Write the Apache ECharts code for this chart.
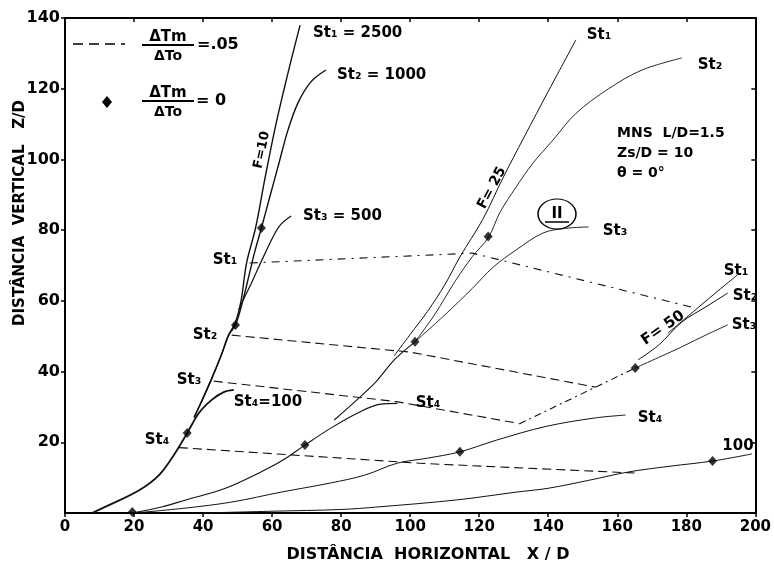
<!DOCTYPE html>
<html><head><meta charset="utf-8">
<script src="https://cdn.jsdelivr.net/npm/echarts@6/dist/echarts.min.js"></script>
<style>html,body{margin:0;padding:0;background:#fff}#c{width:774px;height:567px}</style>
</head><body><div id="c"></div>
<script>
// ---- data (X/D, Z/D) ----
const xTickValues = [0,20,40,60,80,100,120,140,160,180,200];
const yTickValues = [0,20,40,60,80,100,120,140];

// F = 10 family
const f10St1 = [[37.4,27],[40,32.5],[42.5,38],[45.4,45],[47.4,50.3],[49.4,54],[51,60],[52.6,70.7],[55.2,80.6],[58,95],[60.9,109],[63.5,120],[65.5,128],[68.1,138]];
const f10St2 = [[37.4,27],[40,32.5],[42.5,38],[45.4,45],[47.4,50.3],[49.4,53.2],[51.5,60],[53.5,68],[55,74],[56.9,80.6],[59.5,90],[62,99],[64.5,108],[67.5,116],[71.3,122],[75.6,125.3]];
const f10St3 = [[50.3,57.4],[52,61],[54,65],[58,73.5],[62,81],[65.5,84]];
const f10St4 = [[7.8,0],[12.9,2.3],[21.6,6.5],[27.3,10.8],[31.6,16.5],[35.4,22.6],[38.8,28.3],[42.5,32],[46,34.2],[48.9,34.8]];

// F = 25 family
const f25Trunk = [[78,26.3],[84,31.5],[90,37],[95.4,43.3],[101.4,48.4]];
const f25St1 = [[95.4,44.5],[100,50.5],[105,57],[110,64.5],[114.4,72.4],[121,83],[127,95],[133,106.3],[140.2,119.6],[148,133.8]];
const f25St2 = [[101.4,48.4],[107,56],[113,65.5],[118,72.5],[122.7,78],[126,85],[130.7,92.2],[135.6,99],[141.4,105.5],[148,113],[157.5,120],[167.2,125.3],[178.7,128.7]];
const f25St3 = [[101.4,48.4],[110,56],[118,63.5],[124,69.5],[130.7,74.4],[138.5,79.2],[145,80.5],[151.7,80.9]];
const f25St4 = [[19.5,0],[28,1.7],[35,3.7],[46.5,7],[58,12.2],[64,15.5],[69.5,19.2],[77,24],[84.8,28.3],[91.4,30.8],[96.3,31]];

// F = 50 family
const f50Trunk = [[131.6,25.2],[153.7,35.6],[165.2,41]];
const f50St1 = [[174.7,50.9],[183.3,58],[190,63.5],[194.8,67.3]];
const f50St2 = [[166,43.3],[172,47.5],[178.7,54],[186,58.5],[192,62.2]];
const f50St3 = [[165.2,41],[172,44],[178.7,47],[186,50.5],[192,53.2]];
const f50St4 = [[20,0],[35,1.4],[48.3,3.1],[62.6,5.9],[77,8.5],[86.8,10.7],[96.3,14.1],[105,15.5],[114.4,17.3],[125,20.6],[139.4,24.5],[153.7,26.9],[162.4,27.7]];

// F = 100
const f100 = [[40,0],[60,0.5],[80,1],[90.5,1.7],[113.5,3.7],[130.7,5.9],[140,7],[152,9.3],[163.2,11.6],[175,13.2],[187.6,14.7],[199,16.7]];

// dTm/dTo = .05 (dashed)
const dSt1 = [[53.5,70.7],[118,73.5],[182.5,58]];
const dSt2 = [[48.3,50.3],[100,45.5],[153.7,35.6]];
const dSt3 = [[43.1,37.3],[96,31.5],[131.6,25.3]];
const dSt4 = [[33,18.5],[104,14],[165,11.3]];

// dTm/dTo = 0 (diamonds)
const zeroPoints = [[19.5,0.3],[35.4,22.6],[49.4,53.2],[56.9,80.6],[69.5,19.2],[101.4,48.4],[122.6,78.2],[114.4,17.3],[165.2,41],[187.6,14.7]];

// ---- chart ----
const FONT = '"DejaVu Sans", sans-serif';
const INK = '#111';
function curve(data, width, smooth) {
  return {type:'line', data:data, smooth: smooth===undefined?0.35:smooth, symbol:'none', silent:true,
    lineStyle:{color:INK, width:width||1}, z:3};
}
function dashed(data, pattern) {
  return {type:'line', data:data, smooth:false, symbol:'none', silent:true,
    lineStyle:{color:INK, width:1.1, type:pattern||[9,5]}, z:3};
}

const series = [
  curve(f10St1,1.4), curve(f10St2,1.4), curve(f10St3,1.2), curve(f10St4,1.8),
  curve(f25Trunk,1.1), curve(f25St1,1), curve(f25St2,0.9), curve(f25St3,0.9), curve(f25St4,1.1),
  dashed(f50Trunk,[7,4,2,4]), curve(f50St1,1), curve(f50St2,1), curve(f50St3,0.9), curve(f50St4,1),
  curve(f100,1),
  dashed(dSt1,[8,6,2,6]), dashed(dSt2,[9,5]), dashed(dSt3,[9,5]), dashed(dSt4,[9,5]),
  {type:'scatter', data:zeroPoints, symbol:'diamond', symbolSize:[9,10], itemStyle:{color:'#000'}, silent:true, z:5}
];

function txt(x,y,s,opt){
  opt = opt||{};
  return {type:'text', x:x, y:y, rotation:(opt.rot||0)*Math.PI/180, z:10, silent:true,
    style:{text:s, font:'bold '+(opt.size||15)+'px '+FONT, fill:'#000',
      align:opt.align||'center', verticalAlign:'middle'}};
}

const graphics = [
  // legend
  {type:'line', shape:{x1:73,y1:44,x2:125,y2:44}, style:{stroke:'#000', lineWidth:1.5, lineDash:[10,6]}},
  txt(168,37,'ΔTm',{size:15}),
  {type:'line', shape:{x1:142,y1:45,x2:194,y2:45}, style:{stroke:'#000', lineWidth:2}},
  txt(168,56,'ΔTo',{size:14}),
  txt(197,45,'=.05',{align:'left',size:16}),
  {type:'polygon', shape:{points:[[107,96],[112,102],[107,108],[102,102]]}, style:{fill:'#000'}},
  txt(168,93,'ΔTm',{size:15}),
  {type:'line', shape:{x1:142,y1:101,x2:194,y2:101}, style:{stroke:'#000', lineWidth:2}},
  txt(168,112,'ΔTo',{size:14}),
  txt(196,101,'= 0',{align:'left',size:16}),
  // F = 10 labels
  txt(313,33,'St₁ = 2500',{align:'left'}),
  txt(337,75,'St₂ = 1000',{align:'left'}),
  txt(303,216,'St₃ = 500',{align:'left'}),
  txt(262,150,'F=10',{rot:78,size:13}),
  txt(225,260,'St₁'),
  txt(205,335,'St₂'),
  txt(189,380,'St₃'),
  txt(157,440,'St₄'),
  txt(268,402,'St₄=100'),
  // F = 25 labels
  txt(492,188,'F= 25',{rot:62,size:14}),
  {type:'circle', x:557, y:214, scaleX:19/15, scaleY:1, shape:{cx:0,cy:0,r:15}, style:{fill:'none', stroke:'#000', lineWidth:1.2}, z:10},
  txt(557,214,'II',{size:15}),
  {type:'line', shape:{x1:545,y1:222,x2:569,y2:222}, style:{stroke:'#000', lineWidth:1.5}, z:10},
  txt(599,35,'St₁'),
  txt(710,65,'St₂'),
  txt(615,231,'St₃'),
  txt(428,403,'St₄'),
  txt(617,133,'MNS  L/D=1.5',{align:'left',size:14}),
  txt(617,153,'Zs/D = 10',{align:'left',size:14}),
  txt(617,173,'θ = 0°',{align:'left',size:14}),
  // F = 50 labels
  txt(663,328,'F= 50',{rot:35,size:15}),
  txt(650,418,'St₄'),
  txt(736,271,'St₁'),
  txt(745,296,'St₂'),
  txt(744,325,'St₃'),
  txt(738,446,'100'),
  // axis titles
  txt(428,555,'DISTÂNCIA  HORIZONTAL   X / D',{size:16}),
  txt(20,213,'DISTÂNCIA  VERTICAL   Z/D',{rot:90,size:15})
];

const axisLineStyle = {color:'#000', width:2};
const chart = echarts.init(document.getElementById('c'));
chart.setOption({
  animation:false,
  backgroundColor:'#fff',
  grid:{left:65, right:13, top:18, bottom:54, containLabel:false},
  xAxis:[
    {type:'value', min:0, max:200, interval:20, position:'bottom',
     axisLine:{show:true, onZero:false, lineStyle:axisLineStyle},
     axisTick:{show:true, inside:false, length:4, lineStyle:{color:'#000', width:1.5}},
     axisLabel:{show:true, margin:7, color:'#000', fontFamily:FONT, fontWeight:'bold', fontSize:15},
     splitLine:{show:false}},
    {type:'value', min:0, max:200, interval:20, position:'top',
     axisLine:{show:true, onZero:false, lineStyle:axisLineStyle},
     axisTick:{show:true, inside:true, length:4, lineStyle:{color:'#000', width:1.5}},
     axisLabel:{show:false}, splitLine:{show:false}}
  ],
  yAxis:[
    {type:'value', min:0, max:140, interval:20, position:'left',
     axisLine:{show:true, onZero:false, lineStyle:axisLineStyle},
     axisTick:{show:true, inside:false, length:4, lineStyle:{color:'#000', width:1.5}},
     axisLabel:{show:true, showMinLabel:false, margin:5, color:'#000', fontFamily:FONT, fontWeight:'bold', fontSize:16},
     splitLine:{show:false}},
    {type:'value', min:0, max:140, interval:20, position:'right',
     axisLine:{show:true, onZero:false, lineStyle:axisLineStyle},
     axisTick:{show:true, inside:true, length:4, lineStyle:{color:'#000', width:1.5}},
     axisLabel:{show:false}, splitLine:{show:false}}
  ],
  series: series,
  graphic: graphics
});
</script>
</body></html>
